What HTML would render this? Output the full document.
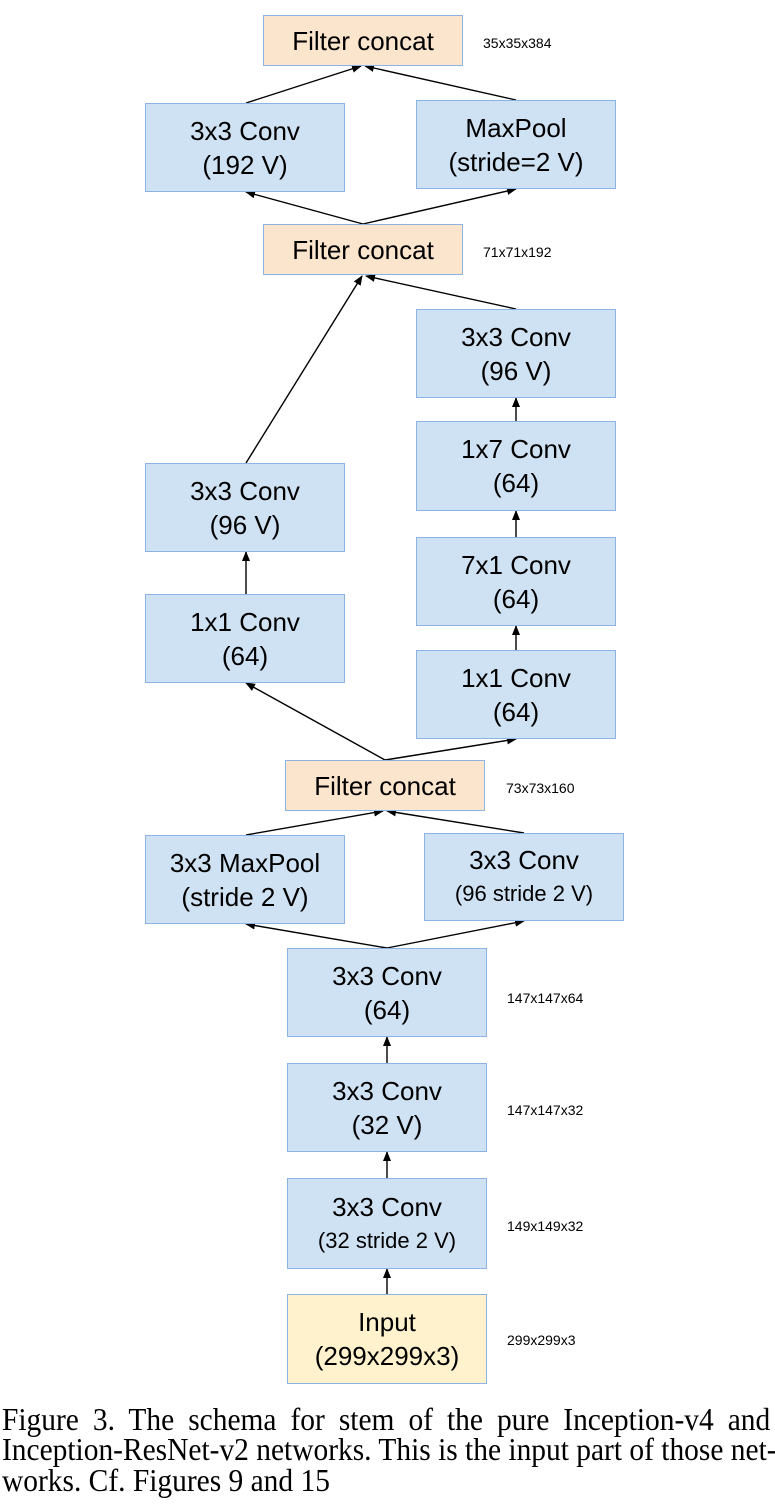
<!DOCTYPE html>
<html><head><meta charset="utf-8"><style>
body{margin:0;width:775px;height:1506px;background:#fff;position:relative;overflow:hidden;font-family:"Liberation Sans",sans-serif}
.b{position:absolute;box-sizing:border-box;border:1.5px solid #8db3e2;background:#cfe2f3;display:flex;flex-direction:column;align-items:center;justify-content:center;font-size:26px;line-height:34px;color:#000;text-align:center}
.fc{background:#fce5cd}
.in{background:#fff2cc}
.l{position:absolute;font-size:14px;color:#000}
.cap{position:absolute;left:2px;width:835px;font-family:"Liberation Serif",serif;font-size:32px;line-height:32px;color:#000;white-space:nowrap;transform:scaleX(0.92);transform-origin:0 0}
.j{text-align:justify;text-align-last:justify}
svg{position:absolute;left:0;top:0}
</style></head><body>
<svg width="775" height="1400">
<defs><marker id="a" markerWidth="10" markerHeight="8" refX="9" refY="4" orient="auto" markerUnits="userSpaceOnUse"><path d="M0,0 L10,4 L0,8z" fill="#000"/></marker></defs>
<g stroke="#000" stroke-width="1.4" fill="none" marker-end="url(#a)">
<line x1="246" y1="103" x2="361" y2="66"/>
<line x1="516" y1="100" x2="365" y2="66"/>
<line x1="363" y1="224" x2="246" y2="192"/>
<line x1="363" y1="224" x2="516" y2="189"/>
<line x1="246" y1="463" x2="362" y2="276"/>
<line x1="516" y1="309" x2="366" y2="276"/>
<line x1="516" y1="421" x2="516" y2="398"/>
<line x1="516" y1="537" x2="516" y2="511"/>
<line x1="516" y1="650" x2="516" y2="626"/>
<line x1="246" y1="594" x2="246" y2="552"/>
<line x1="385" y1="760" x2="246" y2="683"/>
<line x1="385" y1="760" x2="516" y2="739"/>
<line x1="246" y1="835" x2="383" y2="811"/>
<line x1="524" y1="833" x2="387" y2="811"/>
<line x1="387" y1="948" x2="246" y2="924"/>
<line x1="387" y1="948" x2="524" y2="921"/>
<line x1="387" y1="1063" x2="387" y2="1037"/>
<line x1="387" y1="1178" x2="387" y2="1152"/>
<line x1="387" y1="1294" x2="387" y2="1269"/>
</g></svg>
<div class="b fc" style="left:263px;top:15px;width:200px;height:51px">Filter concat</div>
<div class="b" style="left:145px;top:103px;width:200px;height:89px"><div>3x3 Conv</div><div>(192 V)</div></div>
<div class="b" style="left:416px;top:100px;width:200px;height:89px"><div>MaxPool</div><div>(stride=2 V)</div></div>
<div class="b fc" style="left:263px;top:224px;width:200px;height:51px">Filter concat</div>
<div class="b" style="left:416px;top:309px;width:200px;height:89px"><div>3x3 Conv</div><div>(96 V)</div></div>
<div class="b" style="left:416px;top:421px;width:200px;height:90px"><div>1x7 Conv</div><div>(64)</div></div>
<div class="b" style="left:416px;top:537px;width:200px;height:89px"><div>7x1 Conv</div><div>(64)</div></div>
<div class="b" style="left:416px;top:650px;width:200px;height:89px"><div>1x1 Conv</div><div>(64)</div></div>
<div class="b" style="left:145px;top:463px;width:200px;height:89px"><div>3x3 Conv</div><div>(96 V)</div></div>
<div class="b" style="left:145px;top:594px;width:200px;height:89px"><div>1x1 Conv</div><div>(64)</div></div>
<div class="b fc" style="left:285px;top:760px;width:200px;height:51px">Filter concat</div>
<div class="b" style="left:145px;top:835px;width:200px;height:89px"><div>3x3 MaxPool</div><div>(stride 2 V)</div></div>
<div class="b" style="left:424px;top:833px;width:200px;height:88px"><div>3x3 Conv</div><div style="font-size:22px">(96 stride 2 V)</div></div>
<div class="b" style="left:287px;top:948px;width:200px;height:89px"><div>3x3 Conv</div><div>(64)</div></div>
<div class="b" style="left:287px;top:1063px;width:200px;height:89px"><div>3x3 Conv</div><div>(32 V)</div></div>
<div class="b" style="left:287px;top:1178px;width:200px;height:91px"><div>3x3 Conv</div><div style="font-size:22px">(32 stride 2 V)</div></div>
<div class="b in" style="left:287px;top:1294px;width:200px;height:90px"><div>Input</div><div>(299x299x3)</div></div>
<div class="l" style="left:483px;top:35px">35x35x384</div>
<div class="l" style="left:483px;top:244px">71x71x192</div>
<div class="l" style="left:506px;top:780px">73x73x160</div>
<div class="l" style="left:507px;top:990px">147x147x64</div>
<div class="l" style="left:507px;top:1102px">147x147x32</div>
<div class="l" style="left:507px;top:1218px">149x149x32</div>
<div class="l" style="left:507px;top:1332px">299x299x3</div>
<div class="cap j" style="top:1403px">Figure 3. The schema for stem of the pure Inception-v4 and</div>
<div class="cap j" style="top:1433px">Inception-ResNet-v2 networks. This is the input part of those net-</div>
<div class="cap" style="top:1464px">works. Cf. Figures 9 and 15</div>
</body></html>
